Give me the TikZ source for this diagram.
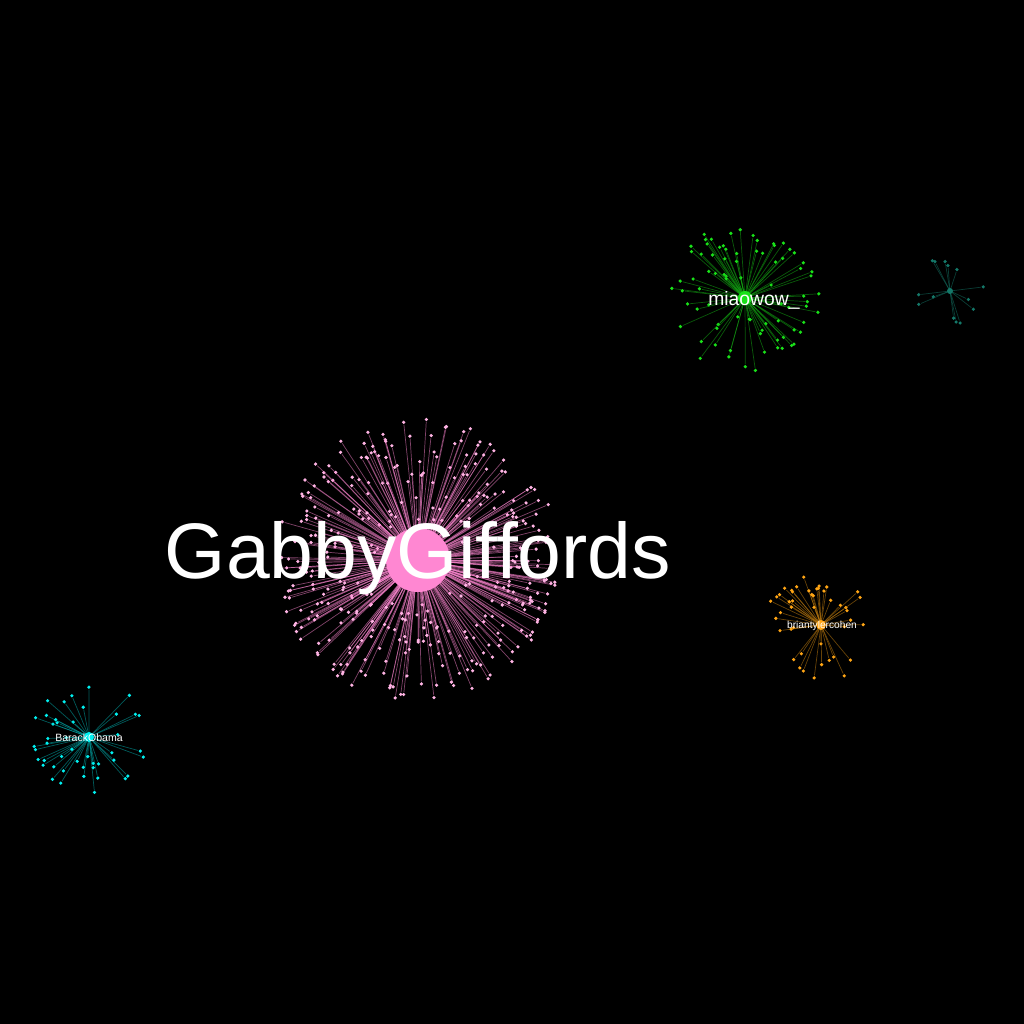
\documentclass[tikz,border=0pt]{standalone}
\usepackage{fontspec}
\setmainfont{Liberation Sans}
\definecolor{gpink}{RGB}{255,135,210}
\definecolor{gleafc}{RGB}{255,180,228}
\definecolor{mgreen}{RGB}{25,225,25}
\definecolor{borange}{RGB}{255,165,20}
\definecolor{ocyan}{RGB}{0,240,240}
\definecolor{dteal}{RGB}{20,120,105}

\begin{document}
\begin{tikzpicture}[x=0.1mm, y=-0.1mm,
    hub/.style={circle, inner sep=0pt},
    leaf/.style={circle, inner sep=0pt, minimum size=0.36mm},
    edge/.style={line width=0.2pt, opacity=0.5},
    hublab/.style={text=white, inner sep=0pt, anchor=base}
  ]
  \useasboundingbox (0,0) rectangle (1024,1024);
  \fill[black] (0,0) rectangle (1024,1024);
  \pgfmathsetseed{23}

  % hub centres
  \coordinate (gabbyc) at (418,560);
  \coordinate (miaoc) at (745,298);
  \coordinate (brianc) at (821,625);
  \coordinate (obamac) at (89,737);
  \coordinate (smallc) at (950,291);

  % GabbyGiffords cluster
  \foreach \i in {1,...,380}{
    \pgfmathsetmacro\ang{360*rnd}
    \pgfmathsetmacro\rad{142*sqrt(0.08+0.92*rnd)}
    \node[leaf, fill=gleafc] (g\i) at ([shift={(\ang:\rad)}]gabbyc) {};
    \draw[edge, gpink] (gabbyc) -- (g\i);
  }

  % miaowow_ cluster
  \foreach \i in {1,...,80}{
    \pgfmathsetmacro\ang{360*rnd}
    \pgfmathsetmacro\rad{76*sqrt(0.06+0.94*rnd)}
    \node[leaf, fill=mgreen] (m\i) at ([shift={(\ang:\rad)}]miaoc) {};
    \draw[edge, mgreen!80!black] (miaoc) -- (m\i);
  }

  % briantylercohen cluster
  \foreach \i in {1,...,45}{
    \pgfmathsetmacro\ang{360*rnd}
    \pgfmathsetmacro\rad{56*sqrt(0.08+0.92*rnd)}
    \node[leaf, fill=borange] (b\i) at ([shift={(\ang:\rad)}]brianc) {};
    \draw[edge, borange!80!black] (brianc) -- (b\i);
  }

  % BarackObama cluster
  \foreach \i in {1,...,45}{
    \pgfmathsetmacro\ang{360*rnd}
    \pgfmathsetmacro\rad{58*sqrt(0.08+0.92*rnd)}
    \node[leaf, fill=ocyan] (o\i) at ([shift={(\ang:\rad)}]obamac) {};
    \draw[edge, ocyan!75!black] (obamac) -- (o\i);
  }

  % small cluster, top right
  \foreach \i in {1,...,14}{
    \pgfmathsetmacro\ang{360*rnd}
    \pgfmathsetmacro\rad{36*sqrt(0.15+0.85*rnd)}
    \node[leaf, fill=dteal] (s\i) at ([shift={(\ang:\rad)}]smallc) {};
    \draw[edge, dteal] (smallc) -- (s\i);
  }

  % hubs on top
  \node[hub, fill=gpink, minimum size=6.4mm] (gabby) at (gabbyc) {};
  \node[hub, fill=mgreen, minimum size=1.4mm] (miao) at (miaoc) {};
  \node[hub, fill=borange, minimum size=1mm] (brian) at (brianc) {};
  \node[hub, fill=ocyan, minimum size=1mm] (obama) at (obamac) {};
  \node[hub, fill=dteal, minimum size=0.6mm] (small) at (smallc) {};

  % hub labels
  \node[hublab, font=\fontsize{22.4}{24}\selectfont] (gabbylab) at (418,578) {GabbyGiffords};
  \node[hublab, font=\fontsize{5.5}{6}\selectfont] (miaolab) at (754,305) {miaowow\_};
  \node[hublab, font=\fontsize{2.9}{3.2}\selectfont] (brianlab) at (822,628) {briantylercohen};
  \node[hublab, font=\fontsize{3}{3.4}\selectfont] (obamalab) at (89,741) {BarackObama};
\end{tikzpicture}
\end{document}
